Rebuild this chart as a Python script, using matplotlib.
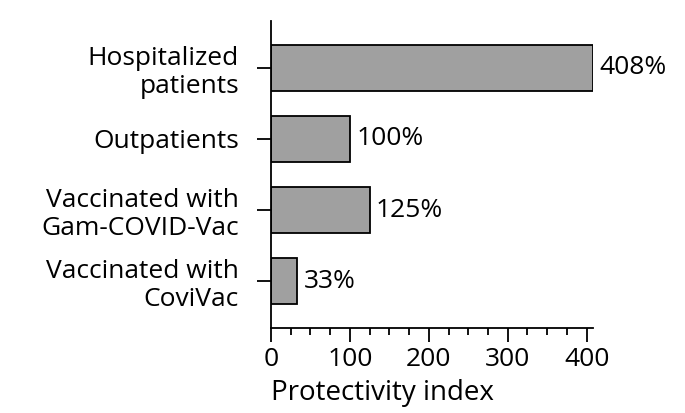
import numpy as np
import matplotlib.pyplot as plt
from matplotlib.ticker import MultipleLocator

groups = ["Hospitalized\npatients", "Outpatients",
          "Vaccinated with\nGam-COVID-Vac", "Vaccinated with\nCoviVac"]
index = [408, 100, 125, 33]
index_labels = ["408%", "100%", "125%", "33%"]

plt.rcParams['font.family'] = ['Open Sans', 'DejaVu Sans']

fig = plt.figure(figsize=(6.85, 4.13), dpi=100)
ax = fig.add_axes([271/685, 1 - 328/413, (593 - 271)/685, (328 - 21)/413])

y = np.arange(len(groups))
ax.barh(y, index, height=0.64, color="#a0a0a0", edgecolor="black", linewidth=1.3)
for i in range(len(index)):
    ax.text(index[i] + 8, y[i], index_labels[i], va="center", ha="left", fontsize=19)

ax.set_xlim(0, 408)
ax.set_ylim(3.66, -0.66)
ax.set_yticks(y)
ax.set_yticklabels(groups, fontsize=19, linespacing=1.15)
ax.xaxis.set_major_locator(MultipleLocator(100))
ax.xaxis.set_minor_locator(MultipleLocator(25))
ax.tick_params(axis="x", labelsize=19, length=10, width=1.3, pad=4)
ax.tick_params(axis="x", which="minor", length=5, width=1.3)
ax.tick_params(axis="y", length=10, width=1.3, pad=13)
ax.set_xlabel("Protectivity index", fontsize=20, loc="left", labelpad=5)

for side in ["top", "right"]:
    ax.spines[side].set_visible(False)
ax.spines["left"].set_linewidth(1.3)
ax.spines["bottom"].set_linewidth(1.3)

fig.savefig("out.png", dpi=100)
